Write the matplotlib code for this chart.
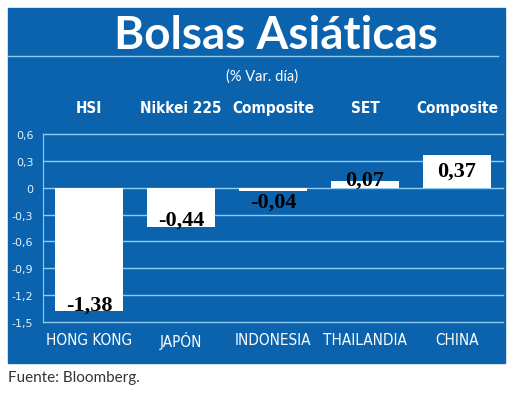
import matplotlib
matplotlib.use('Agg')
import matplotlib.pyplot as plt
from matplotlib.patches import Rectangle
from matplotlib.lines import Line2D
from matplotlib.transforms import blended_transform_factory

paises = ['HONG KONG', 'JAPÓN', 'INDONESIA', 'THAILANDIA', 'CHINA']
indices = ['HSI', 'Nikkei 225', 'Composite', 'SET', 'Composite']
variacion = [-1.38, -0.44, -0.04, 0.07, 0.37]
etiquetas = ['-1,38', '-0,44', '-0,04', '0,07', '0,37']
yticks = [0.6, 0.3, 0, -0.3, -0.6, -0.9, -1.2, -1.5]
ytick_lab = ['0,6', '0,3', '0', '-0,3', '-0,6', '-0,9', '-1,2', '-1,5']

azul = '#0B63AE'
celeste = '#8FCBF0'
cond = ['Liberation Sans Narrow', 'DejaVu Sans']

W, H = 520, 402
fig = plt.figure(figsize=(5.2, 4.02), dpi=100)


def fx(px):
    return px / W


def fy(py):
    return 1 - py / H


# fondo azul y linea bajo el titulo
fig.patches.append(Rectangle((fx(8), fy(364)), fx(505) - fx(8), fy(9) - fy(364),
                             transform=fig.transFigure, color=azul, zorder=-5))
fig.lines.append(Line2D([fx(8), fx(498)], [fy(57), fy(57)], transform=fig.transFigure,
                        color=celeste, lw=1))
fig.text(fx(276), fy(36), 'Bolsas Asiáticas', ha='center', va='center', color='white',
         fontsize=33, fontweight='bold', family='Lato')
fig.text(fx(262), fy(77), '(% Var. día)', ha='center', va='center', color='white',
         fontsize=10.5, family='Lato')
fig.text(fx(8), fy(378), 'Fuente: Bloomberg.', ha='left', va='center', color='#333333',
         fontsize=11, family='Lato')

ax = fig.add_axes([fx(43), fy(323), fx(503) - fx(43), fy(135) - fy(323)])
ax.set_zorder(2)
ax.set_facecolor('none')
x = list(range(len(paises)))
ax.bar(x, variacion, width=0.73, color='white', zorder=3)
ax.set_xlim(-0.5, 4.5)
ax.set_ylim(-1.5, 0.6)
ax.set_yticks(yticks)
ax.set_yticklabels(ytick_lab)
for y in yticks:
    ax.axhline(y, color=celeste, lw=1, zorder=1, clip_on=False)
for s in ['top', 'right', 'bottom']:
    ax.spines[s].set_visible(False)
ax.spines['left'].set_color(celeste)
ax.tick_params(axis='y', length=0, colors='#e6f2fb', labelsize=8, pad=7)
ax.set_xticks([])

for i, (v, t) in enumerate(zip(variacion, etiquetas)):
    if v < 0:
        yl = min(v + 0.08, -0.16)
    else:
        yl = max(v - 0.18, 0.09)
    ax.text(i, yl, t, ha='center', va='center', fontsize=16, fontweight='bold',
            family='Liberation Serif', color='black', zorder=4)

tr = blended_transform_factory(ax.transData, fig.transFigure)
for i, n in enumerate(indices):
    ax.text(i, fy(109), n, transform=tr, ha='center', va='center', color='white',
            fontsize=11, fontweight='bold', family=cond, fontstretch='condensed')
for i, p in enumerate(paises):
    ax.text(i, fy(341), p, transform=tr, ha='center', va='center', color='white',
            fontsize=11, family=cond, fontstretch='condensed')

fig.savefig('out.png', dpi=100)
